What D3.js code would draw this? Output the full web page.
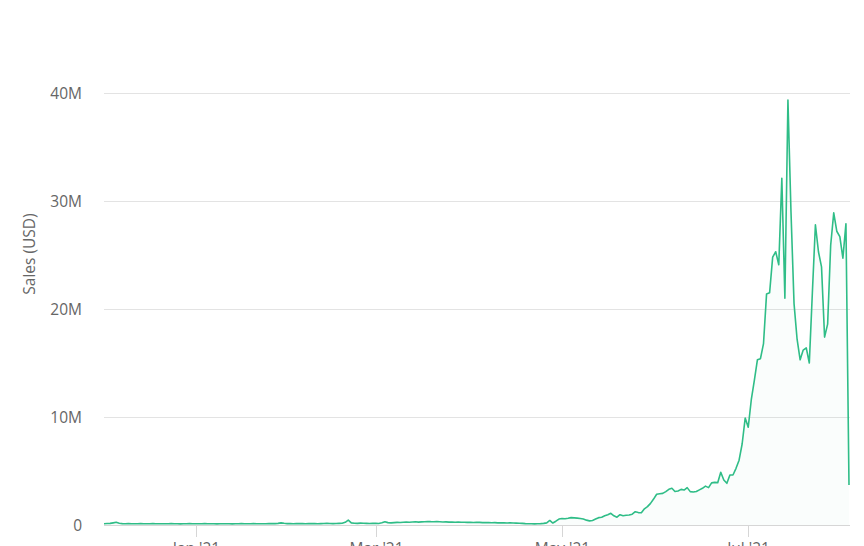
<!DOCTYPE html>
<html>
<head>
<meta charset="utf-8">
<script src="https://cdn.jsdelivr.net/npm/d3@7"></script>
<style>
  html, body { margin: 0; padding: 0; background: #fff; }
  svg { display: block; font-family: "Open Sans", sans-serif; }
</style>
</head>
<body>
<svg id="chart" width="864" height="546"></svg>
<script>
// Daily sales (millions USD), starting 2020-12-02
const startDate = "2020-12-02";
const dec2020 = [0.12,0.14,0.15,0.2,0.25,0.16,0.13,0.12,0.13,0.12,0.11,0.12,0.13,0.12,0.11,0.12,0.13,0.12,0.12,0.11,0.12,0.12,0.13,0.12,0.11,0.1,0.11,0.12,0.13,0.12];
const jan2021 = [0.12,0.11,0.12,0.13,0.12,0.12,0.11,0.1,0.11,0.12,0.12,0.11,0.1,0.11,0.12,0.13,0.12,0.11,0.12,0.13,0.12,0.11,0.12,0.12,0.13,0.14,0.13,0.15,0.2,0.16,0.13];
const feb2021 = [0.13,0.12,0.13,0.14,0.13,0.12,0.13,0.14,0.13,0.12,0.13,0.14,0.15,0.14,0.13,0.14,0.15,0.16,0.25,0.45,0.2,0.16,0.15,0.17,0.16,0.15,0.14,0.16];
const mar2021 = [0.15,0.14,0.2,0.3,0.22,0.2,0.22,0.24,0.23,0.25,0.27,0.26,0.28,0.3,0.27,0.29,0.3,0.33,0.31,0.3,0.32,0.3,0.28,0.29,0.27,0.28,0.26,0.27,0.25,0.26,0.24];
const apr2021 = [0.24,0.23,0.25,0.24,0.22,0.23,0.22,0.21,0.22,0.2,0.21,0.2,0.19,0.2,0.18,0.17,0.16,0.15,0.13,0.12,0.11,0.1,0.12,0.13,0.15,0.2,0.42,0.18,0.35,0.55];
const may2021 = [0.6,0.58,0.62,0.68,0.66,0.64,0.6,0.55,0.45,0.38,0.42,0.55,0.68,0.72,0.85,0.95,1.08,0.85,0.72,0.95,0.86,0.9,0.93,1.0,1.23,1.15,1.14,1.5,1.7,2.0,2.4];
const jun2021 = [2.85,2.9,2.93,3.09,3.3,3.4,3.1,3.15,3.3,3.24,3.46,3.09,3.05,3.1,3.25,3.4,3.6,3.46,3.9,3.95,3.92,4.88,4.17,3.86,4.63,4.63,5.25,6.0,7.5,9.9];
const jul2021 = [9.05,11.6,13.4,15.3,15.4,16.8,21.4,21.5,24.8,25.3,24.1,32.1,21.0,39.35,29.0,20.5,17.2,15.3,16.2,16.4,15.0,21.5,27.8,25.3,23.9,17.4,18.6,25.9,28.9,27.2,26.7];
const aug2021 = [24.7,27.9,3.7];

const yTicks = [0, 10e6, 20e6, 30e6, 40e6];
const yTickLabels = ["0", "10M", "20M", "30M", "40M"];
const xTickDates = ["2021-01-01", "2021-03-01", "2021-05-01", "2021-07-01"];
const xTickLabels = ["Jan '21", "Mar '21", "May '21", "Jul '21"];
const yTitle = "Sales (USD)";

(function () {
const parse = d3.utcParse("%Y-%m-%d");
const allValues = [].concat(dec2020, jan2021, feb2021, mar2021, apr2021, may2021, jun2021, jul2021, aug2021);
const t0 = parse(startDate);
const data = allValues.map((v, i) => ({ date: d3.utcDay.offset(t0, i), value: v * 1e6 }));

const svg = d3.select("#chart");
const mLeft = 104, mRight = 849, mTop = 93, mBottom = 525;

const x = d3.scaleUtc()
  .domain([t0, data[data.length - 1].date])
  .range([mLeft, mRight]);
const y = d3.scaleLinear().domain([0, 40e6]).range([mBottom, mTop]);

// gridlines
svg.append("g")
  .selectAll("line")
  .data(yTicks)
  .join("line")
  .attr("x1", mLeft).attr("x2", mRight + 1)
  .attr("y1", d => Math.round(y(d)) + 0.5).attr("y2", d => Math.round(y(d)) + 0.5)
  .attr("stroke", d => d === 0 ? "#d6d6d6" : "#e3e3e3")
  .attr("stroke-width", 1);

// y labels
svg.append("g")
  .selectAll("text")
  .data(yTicks)
  .join("text")
  .attr("x", 82)
  .attr("y", d => y(d))
  .attr("dy", "0.36em")
  .attr("text-anchor", "end")
  .attr("fill", "#666")
  .attr("font-size", 15.5)
  .text((d, i) => yTickLabels[i]);

// y title
svg.append("text")
  .attr("transform", `translate(35,254) rotate(-90)`)
  .attr("text-anchor", "middle")
  .attr("fill", "#666")
  .attr("font-size", 15.5)
  .text(yTitle);

// x axis ticks & labels
const xt = svg.append("g");
xTickDates.forEach((ds, i) => {
  const px = Math.round(x(parse(ds))) + 0.5;
  xt.append("line")
    .attr("x1", px).attr("x2", px)
    .attr("y1", mBottom).attr("y2", mBottom + 12)
    .attr("stroke", "#d6d6d6");
  xt.append("text")
    .attr("x", px)
    .attr("y", mBottom + 29)
    .attr("text-anchor", "middle")
    .attr("fill", "#666")
    .attr("font-size", 15.5)
    .text(xTickLabels[i]);
});

// area
const area = d3.area()
  .x(d => x(d.date))
  .y0(y(0))
  .y1(d => y(d.value));
svg.append("path")
  .datum(data)
  .attr("d", area)
  .attr("fill", "#2fbd87")
  .attr("fill-opacity", 0.025);

// line
const line = d3.line()
  .x(d => x(d.date))
  .y(d => y(d.value));
svg.append("path")
  .datum(data)
  .attr("d", line)
  .attr("fill", "none")
  .attr("stroke", "#2fbd87")
  .attr("stroke-width", 1.6)
  .attr("stroke-linejoin", "round");
})();
</script>
</body>
</html>
